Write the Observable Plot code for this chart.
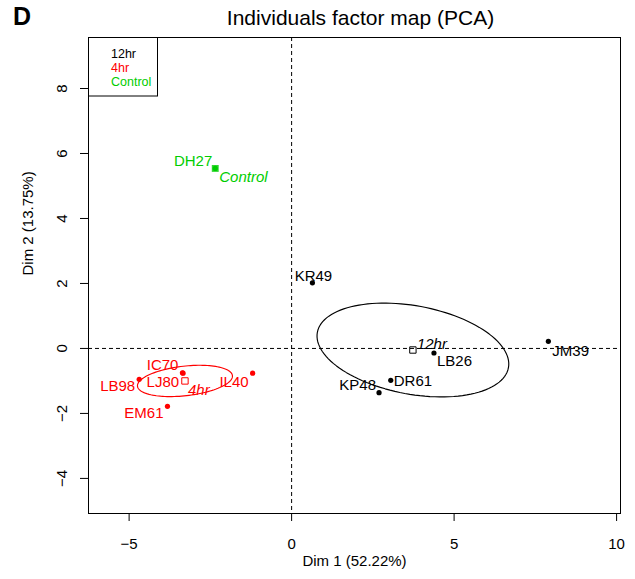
<!DOCTYPE html>
<html>
<head>
<meta charset="utf-8">
<script src="https://cdn.jsdelivr.net/npm/d3@7"></script>
<script src="https://cdn.jsdelivr.net/npm/@observablehq/plot@0.6"></script>
<style>
  body { margin: 0; background: #fff; font-family: "Liberation Sans", Arial, Helvetica, sans-serif; }
  #wrap { position: relative; width: 635px; height: 579px; }
  #header { position: relative; height: 30px; }
  #panel { position: absolute; left: 13px; top: 4px; font-weight: bold; font-size: 25px; line-height: 25px; }
  #title { position: absolute; left: 0; width: 721px; top: 7px; text-align: center; font-size: 21px; line-height: 21px; }
  #chart svg { display: block; }
</style>
</head>
<body>
<div id="wrap">
  <div id="header">
    <div id="panel">D</div>
    <div id="title">Individuals factor map (PCA)</div>
  </div>
  <div id="chart"></div>
</div>
<script>
// PCA individual coordinates on the first two dimensions
const individuals = ["DH27", "KR49", "JM39", "LB26", "DR61", "KP48", "IC70", "LJ80", "LB98", "IL40", "EM61"];
const treatment   = ["Control", "12hr", "12hr", "12hr", "12hr", "12hr", "4hr", "4hr", "4hr", "4hr", "4hr"];
const dim1 = [-2.35, 0.64, 7.90, 4.38, 3.05, 2.69, -3.36, -3.34, -4.69, -1.20, -3.82];
const dim2 = [ 5.54, 2.02, 0.22, -0.14, -0.98, -1.36, -0.75, -0.76, -0.95, -0.76, -1.78];

// Treatment groups (legend order) and their colours
const groups = ["12hr", "4hr", "Control"];
const groupColors = ["#000000", "#ff0000", "#00cd00"];

// Confidence ellipses around the group means: semi-axes and tilt (degrees)
const ellipseGroups = ["12hr", "4hr"];
const ellipseSemiMajor = [2.99, 1.47];
const ellipseSemiMinor = [1.36, 0.456];
const ellipseAngle = [-10.5, 6.4];

// Axis ticks and titles
const xTicks = [-5, 0, 5, 10];
const yTicks = [-4, -2, 0, 2, 4, 6, 8];
const xTitle = "Dim 1 (52.22%)";
const yTitle = "Dim 2 (13.75%)";

const points = individuals.map((name, i) => ({name, group: treatment[i], x: dim1[i], y: dim2[i]}));

const means = groups.map(g => {
  const members = points.filter(p => p.group === g);
  return {group: g, n: members.length, x: d3.mean(members, p => p.x), y: d3.mean(members, p => p.y)};
});

const ellipsePts = ellipseGroups.flatMap((g, k) => {
  const c = means.find(m => m.group === g);
  const a = ellipseSemiMajor[k], b = ellipseSemiMinor[k], t = ellipseAngle[k] * Math.PI / 180;
  return d3.range(0, 121).map(i => {
    const s = 2 * Math.PI * i / 120;
    return {
      group: g,
      x: c.x + a * Math.cos(s) * Math.cos(t) - b * Math.sin(s) * Math.sin(t),
      y: c.y + a * Math.cos(s) * Math.sin(t) + b * Math.sin(s) * Math.cos(t)
    };
  });
});

// Label placement around each point: [dx, dy, anchor]
const labelPlacement = {
  DH27: [-3, -7, "end"], KR49: [1, -7, "middle"], JM39: [4, 10, "start"],
  LB26: [3, 8, "start"], DR61: [3, 0.5, "start"], KP48: [-3, -7, "end"],
  IC70: [-4, -8, "end"], LJ80: [-4, 9, "end"], LB98: [-4, 7, "end"],
  IL40: [-4, 9, "end"], EM61: [-4, 7, "end"]
};
const meanLabelPlacement = {"12hr": [4, -6], "4hr": [3, 9], "Control": [4, 9]};

const font = "'Liberation Sans', Arial, Helvetica, sans-serif";

const pointLabels = points.map(p => {
  const [dx, dy, anchor] = labelPlacement[p.name];
  return Plot.text([p], {x: "x", y: "y", text: "name", fill: "group", dx, dy, textAnchor: anchor, fontSize: 15});
});
const meanLabels = means.map(m => {
  const [dx, dy] = meanLabelPlacement[m.group];
  return Plot.text([m], {x: "x", y: "y", text: "group", fill: "group", dx, dy, textAnchor: "start", fontStyle: "italic", fontSize: 15});
});

const chart = Plot.plot({
  width: 635,
  height: 549,
  marginLeft: 88,
  marginRight: 15,
  marginTop: 7,
  marginBottom: 66,
  x: {domain: [-6.25, 10.12]},
  y: {domain: [-5.08, 9.57]},
  color: {domain: groups, range: groupColors},
  style: {fontFamily: font, fontSize: "15px", color: "black", background: "white", overflow: "visible"},
  marks: [
    Plot.ruleX([0], {stroke: "black", strokeDasharray: "4,3"}),
    Plot.ruleY([0], {stroke: "black", strokeDasharray: "4,3"}),
    Plot.line(ellipsePts, {x: "x", y: "y", z: "group", stroke: "group", strokeWidth: 1.15, curve: "linear-closed"}),
    Plot.dot(means.filter(m => m.n > 1), {x: "x", y: "y", stroke: "group", symbol: "square", r: 3.6, strokeWidth: 1}),
    Plot.dot(means.filter(m => m.n === 1), {x: "x", y: "y", fill: "group", fillOpacity: 0.8, symbol: "square", r: 3.9}),
    Plot.dot(points, {x: "x", y: "y", fill: "group", r: 2.6}),
    ...pointLabels,
    ...meanLabels,
    Plot.frame({stroke: "black"}),
    Plot.axisX({ticks: xTicks, tickSize: 8, tickPadding: 17, label: null, fontSize: 15}),
    Plot.axisY({ticks: yTicks, tickSize: 8, tickPadding: 14, tickRotate: -90, label: null, fontSize: 15}),
    Plot.text([xTitle], {frameAnchor: "bottom", dy: 52, fontSize: 15}),
    Plot.text([yTitle], {frameAnchor: "left", dx: -60, rotate: -90, fontSize: 15})
  ]
});

// Legend box in the top-left corner of the panel
const legend = d3.select(chart).append("g")
  .attr("font-family", font).attr("font-size", 12.5).attr("text-anchor", "start");
legend.append("rect")
  .attr("x", 88.5).attr("y", 7.5).attr("width", 69).attr("height", 58.5)
  .attr("fill", "white").attr("stroke", "black");
groups.forEach((g, i) => {
  legend.append("text")
    .attr("x", 111).attr("y", 23.5 + i * 14.2).attr("dy", "0.35em")
    .attr("text-anchor", "start")
    .attr("fill", groupColors[i]).text(g);
});

document.getElementById("chart").appendChild(chart);
</script>
</body>
</html>
